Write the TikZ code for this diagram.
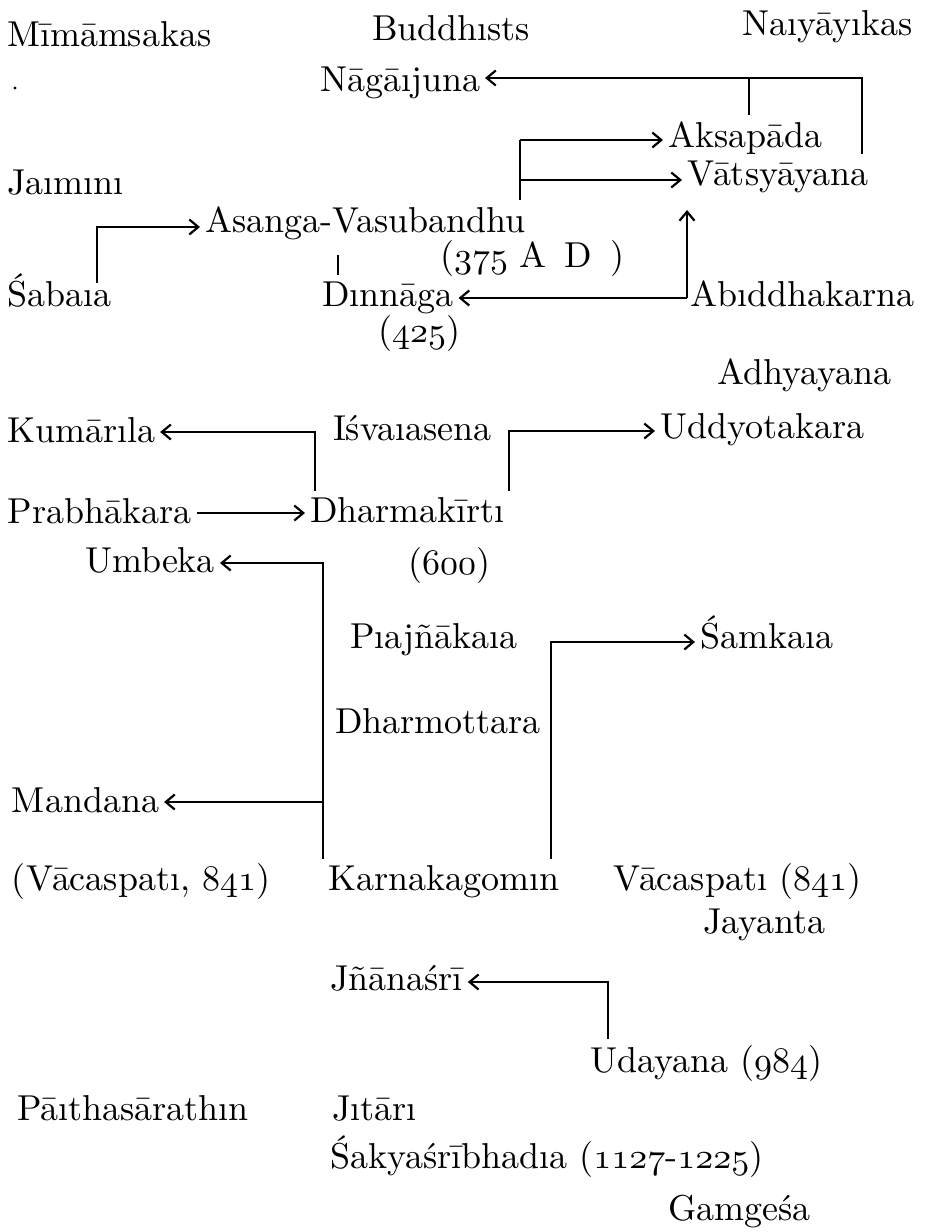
\documentclass[tikz,border=0pt]{standalone}
\usepackage{fontspec}
\usetikzlibrary{arrows.meta}
\newfontfamily\lmten{lmroman10-regular.otf}
\DeclareFontFamily{OML}{osfdig}{\skewchar\font127 }
\DeclareFontShape{OML}{osfdig}{m}{it}{<-> cmmi10}{}
\newcommand\osn[1]{{\usefont{OML}{osfdig}{m}{it}#1}}
\begin{document}
\begin{tikzpicture}[x=1pt,y=-1pt,
  lbl/.style={anchor=base west,inner sep=0pt,outer xsep=5pt,outer ysep=6pt,font=\fontsize{36}{43}\lmten},
  ln/.style={line width=2.2pt},
  arr/.style={ln,-{Straight Barb[length=9pt,width=15pt]}}]
\useasboundingbox (0,0) rectangle (929,1232);
% headings
\node[lbl] (mim) at (2,46) {Mīmāmsakas};
\node[lbl] (bud) at (367,40) {Buddhısts};
\node[lbl] (nai) at (737,35) {Naıyāyıkas};
\fill (15,88) circle (1.6);
% names
\node[lbl] (naga) at (315,91) {Nāgāıjuna};
\node[lbl] (aks) at (663,147) {Aksapāda};
\node[lbl] (vat) at (682,185) {Vātsyāyana};
\node[lbl] (jai) at (2,194) {Jaımını};
\node[lbl] (asanga) at (200,232) {Asanga-Vasubandhu};
\node[lbl] (ad375) at (435,267) {(\osn{375} A\, D\, )};
\node[lbl] (sab) at (2,306) {Śabaıa};
\node[lbl] (din) at (317,306) {Dınnāga};
\node[lbl] (abi) at (685,306) {Abıddhakarna};
\node[lbl] (d425) at (373,342) {(\osn{425})};
\node[lbl] (adh) at (712,384) {Adhyayana};
\node[lbl] (kum) at (2,442) {Kumārıla};
\node[lbl] (isv) at (328,440) {Iśvaıasena};
\node[lbl] (udd) at (655,438) {Uddyotakara};
\node[lbl] (prab) at (3,523) {Prabhākara};
\node[lbl] (dk) at (305,522) {Dharmakīrtı};
\node[lbl] (umb) at (80,572) {Umbeka};
\node[lbl] (d600) at (403,574) {(\osn{600})};
\node[lbl] (pra) at (345,648) {Pıajñākaıa};
\node[lbl] (sam) at (695,648) {Śamkaıa};
\node[lbl] (dho) at (330,733) {Dharmottara};
\node[lbl] (man) at (7,812) {Mandana};
\node[lbl] (vac1) at (7,890) {(Vācaspatı, \osn{841})};
\node[lbl] (kar) at (323,890) {Karnakagomın};
\node[lbl] (vac2) at (608,890) {Vācaspatı (\osn{841})};
\node[lbl] (jay) at (698,933) {Jayanta};
\node[lbl] (jna) at (325,990) {Jñānaśrī};
\node[lbl] (uda) at (585,1072) {Udayana (\osn{984})};
\node[lbl] (par) at (12,1120) {Pāıthasārathın};
\node[lbl] (jit) at (327,1120) {Jıtārı};
\node[lbl] (sak) at (325,1168) {Śakyaśrībhadıa (\osn{1127}-\osn{1225})};
\node[lbl] (gam) at (663,1220) {Gamgeśa};
% connectors
\coordinate (nR) at (862,78);
\coordinate (nA) at (749,78);
\draw[arr] (nR |- vat.north) -- (nR) -- (nR -| naga.east);
\draw[ln] (nA) -- (nA |- aks.north);
\coordinate (aTop) at (520,140);
\coordinate (aMid) at (520,180);
\draw[ln] (aTop |- asanga.north) -- (aTop);
\draw[arr] (aTop) -- (aTop -| aks.west);
\draw[arr] (aMid) -- (aMid -| vat.west);
\coordinate (jS) at (97,227);
\coordinate (jSb) at (97,283);
\draw[arr] (jSb) -- (jS) -- (jS -| asanga.west);
\coordinate (ad1) at (338,255);
\draw[ln] (ad1) -- (ad1 |- din.north);
\coordinate (abL) at (687,298);
\coordinate (abT) at (687,210);
\draw[arr] (abL) -- (abL -| din.east);
\draw[arr] (abL) -- (abT);
\coordinate (kC) at (315,432);
\draw[arr] (kC |- dk.north) -- (kC) -- (kC -| kum.east);
\coordinate (uC) at (509,431);
\draw[arr] (uC |- dk.north) -- (uC) -- (uC -| udd.west);
\coordinate (pY) at (0,513);
\draw[arr] (pY -| prab.east) -- (pY -| dk.west);
\coordinate (kU) at (323,563);
\coordinate (kM) at (323,802);
\draw[arr] (kU |- kar.north) -- (kU) -- (kU -| umb.east);
\draw[arr] (kM) -- (kM -| man.east);
\coordinate (sC) at (551,642);
\draw[arr] (sC |- kar.north) -- (sC) -- (sC -| sam.west);
\coordinate (jC) at (608,982);
\draw[arr] (jC |- uda.north) -- (jC) -- (jC -| jna.east);
\end{tikzpicture}
\end{document}
